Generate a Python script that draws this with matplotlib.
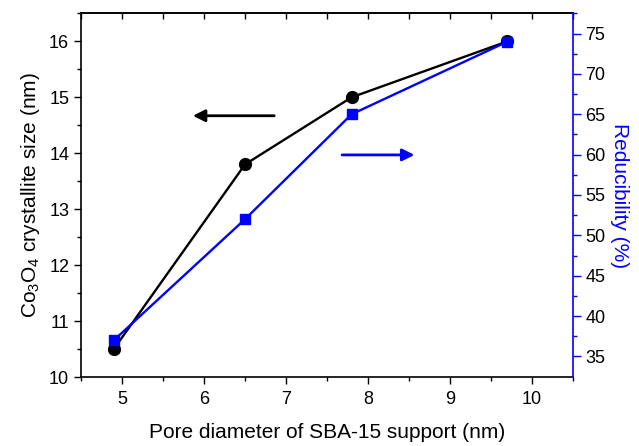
import matplotlib
matplotlib.use("Agg")
import matplotlib.pyplot as plt

plt.rcParams['font.family'] = ['Liberation Sans', 'DejaVu Sans']
plt.rcParams['mathtext.default'] = 'regular'

pore = [4.9, 6.5, 7.8, 9.7]
size = [10.5, 13.8, 15.0, 16.0]
reducibility = [37, 52, 65, 74]

xticks = [5, 6, 7, 8, 9, 10]
lticks = [10, 11, 12, 13, 14, 15, 16]
rticks = [35, 40, 45, 50, 55, 60, 65, 70, 75]

blue = '#0000ff'

fig = plt.figure(figsize=(6.39, 4.46), dpi=100)
ax = fig.add_axes([0.1268, 0.1547, 0.7699, 0.8153])
ax2 = ax.twinx()

ax.plot(pore, size, color='black', lw=1.7, marker='o', ms=8.5, zorder=3)
ax2.plot(pore, reducibility, color=blue, lw=1.7, marker='s', ms=7.5, zorder=3)

ax.set_xlim(4.5, 10.5)
ax.set_ylim(10, 16.5)
ax2.set_ylim(32.45, 77.45)

xminor = [x + 0.5 for x in [4] + xticks]
ax.set_xticks(xticks)
ax.set_xticks(xminor, minor=True)
ax.set_yticks(lticks)
ax.set_yticks([y + 0.5 for y in lticks[:-1]] + [16.5], minor=True)
ax2.set_yticks(rticks)
ax2.set_yticks([r + 2.5 for r in rticks], minor=True)

fs = 13
lfs = 15
ax.tick_params(axis='both', which='major', labelsize=fs, length=5, width=1, direction='out')
ax.tick_params(axis='both', which='minor', length=3, width=1, direction='out')
ax.tick_params(axis='x', which='both', top=False)
ax.tick_params(axis='x', which='major', pad=5)
ax2.tick_params(axis='y', which='major', labelsize=fs, length=5.5, width=1, direction='out', color=blue)
ax2.tick_params(axis='y', which='minor', length=3, width=1, direction='out', color=blue)

sec = ax.secondary_xaxis('top')
sec.set_xticks(xticks)
sec.set_xticks(xminor, minor=True)
sec.tick_params(axis='x', which='major', direction='in', length=4.5, width=1, labeltop=False)
sec.tick_params(axis='x', which='minor', direction='in', length=4.5, width=1)
sec.spines['top'].set_linewidth(1.2)

for s in ax.spines.values():
    s.set_linewidth(1.2)
for s in ['left', 'top', 'bottom']:
    ax2.spines[s].set_visible(False)
ax2.spines['right'].set_color(blue)
ax2.spines['right'].set_linewidth(1.2)
ax.spines['right'].set_visible(False)

ax.set_xlabel('Pore diameter of SBA-15 support (nm)', fontsize=lfs, labelpad=11)
ax.set_ylabel('Co$_3$O$_4$ crystallite size (nm)', fontsize=lfs, labelpad=5)
ax2.set_ylabel('Reducibility (%)', fontsize=lfs, color=blue, rotation=270, labelpad=17)

ax.annotate('', xy=(5.83, 14.67), xytext=(6.89, 14.67),
            arrowprops=dict(arrowstyle='-|>', color='black', lw=2, mutation_scale=18))
ax.annotate('', xy=(8.60, 13.97), xytext=(7.65, 13.97),
            arrowprops=dict(arrowstyle='-|>', color=blue, lw=2, mutation_scale=18))

fig.savefig('out.png', dpi=100)
